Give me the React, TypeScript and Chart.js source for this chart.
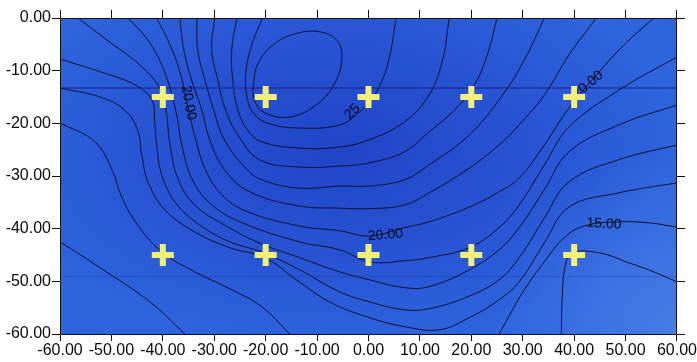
import React, { useEffect, useRef } from "react";
import { Chart, registerables } from "chart.js";

Chart.register(...registerables);

// ---- axis ticks ----
const xTickValues = [-60, -50, -40, -30, -20, -10, 0, 10, 20, 30, 40, 50, 60];
const yTickValues = [0, -10, -20, -30, -40, -50, -60];

// ---- sample (sensor) positions ----
const sensorX = [-40, -20, 0, 20, 40];
const sensorY = [-15, -45];

// ---- contour lines (x, y) ----
const contour26 = [
  [-22.5, -13.7], [-21.6, -8.9], [-18.3, -4.9], [-13.4, -2.8], [-9.1, -2.7], [-6.0, -4.4],
  [-5.2, -7.6], [-6.4, -12.1], [-9.9, -16.3], [-15.3, -18.8], [-20.2, -18.0], [-22.1, -15.9], [-22.5, -13.7],
];
const contour25 = [
  [-20.6, 0], [-22.7, -5.1], [-23.9, -10.8], [-23.5, -15.6], [-22.1, -18.4], [-19.2, -20.1],
  [-13.4, -20.9], [-5.6, -20.3], [-1.7, -17.8], [1.2, -14.6], [3.7, -8.9], [5.4, 0],
];
const contour24 = [
  [-25.6, 0], [-26.6, -6.1], [-26.4, -11.8], [-25.4, -17.5], [-23.5, -21.3], [-20.8, -23.5],
  [-13.4, -24.7], [-5.6, -24.5], [0.2, -23.1], [7.0, -19.7], [11.8, -14.6], [14.4, -8.0], [15.7, 0],
];
const contour23 = [
  [-29.9, 0], [-30.5, -6.1], [-29.3, -11.8], [-27.8, -17.5], [-25.4, -22.2], [-21.2, -26.9],
  [-13.4, -28.3], [-5.6, -28.1], [0.2, -27.5], [7.0, -25.4], [11.8, -21.6], [16.7, -17.5],
  [20.6, -12.7], [23.1, -7.0], [25.0, 0],
];
const contour22 = [
  [-33.4, 0], [-33.2, -6.1], [-31.8, -11.8], [-30.1, -17.5], [-28.2, -22.8], [-24.1, -28.3],
  [-20.8, -30.7], [-13.4, -32.3], [-5.6, -31.9], [0.2, -31.9], [7.0, -30.7], [11.8, -27.9],
  [19.6, -22.2], [25.8, -15.0], [30.3, -8.0], [34.2, 0],
];
const contour21 = [
  [-36.7, 0], [-35.9, -6.1], [-34.4, -11.8], [-32.4, -17.5], [-30.9, -23.1], [-28.0, -28.8],
  [-23.1, -33.0], [-13.4, -35.7], [-5.6, -36.1], [0.2, -36.2], [7.0, -35.5], [11.8, -33.2],
  [19.6, -28.5], [25.4, -24.1], [29.3, -20.3], [34.2, -14.6], [39.0, -7.0], [44.3, 0],
];
const contour20 = [
  [-41.2, 0], [-38.6, -5.1], [-36.5, -10.8], [-35.0, -17.5], [-33.6, -23.1], [-31.7, -28.8],
  [-28.5, -33.6], [-23.5, -36.8], [-13.4, -39.5], [-5.6, -40.4], [0.2, -41.4], [7.0, -39.8],
  [11.8, -38.7], [19.6, -35.9], [25.4, -33.0], [29.3, -30.4], [34.2, -24.1], [39.0, -17.1],
  [44.9, -10.2], [49.7, -5.1], [55.5, 0],
];
const contour19 = [
  [-46.8, 0], [-42.9, -4.2], [-39.8, -9.9], [-37.5, -17.5], [-36.3, -24.1], [-34.4, -30.4],
  [-30.9, -35.1], [-25.0, -38.7], [-13.4, -42.5], [-5.6, -44.0], [0.2, -46.3], [7.0, -46.1],
  [11.8, -45.5], [19.6, -43.6], [25.4, -39.8], [29.3, -35.5], [34.2, -27.9], [39.0, -20.7],
  [48.7, -13.7], [60, -7.4],
];
const contour18 = [
  [-56.5, 0], [-50.3, -4.6], [-44.5, -8.9], [-40.6, -13.3], [-39.4, -17.5], [-38.6, -24.1],
  [-37.1, -30.4], [-33.8, -35.5], [-28.0, -39.3], [-20.8, -42.9], [-13.4, -45.5], [-5.6, -48.2],
  [0.2, -49.7], [7.0, -51.2], [11.8, -51.0], [19.6, -47.8], [25.4, -44.0], [29.3, -39.8],
  [34.2, -32.6], [39.0, -25.4], [48.7, -20.3], [60, -16.5],
];
const contour17 = [
  [-60, -7.8], [-52.2, -10.2], [-45.4, -12.7], [-42.1, -15.6], [-41.6, -19.4], [-41.2, -24.1],
  [-40.2, -29.8], [-37.5, -35.1], [-32.8, -39.3], [-27.0, -42.5], [-20.8, -44.4], [-13.4, -47.8],
  [-5.6, -52.0], [0.2, -53.9], [7.0, -55.4], [11.8, -55.2], [19.6, -52.8], [25.4, -49.7],
  [29.3, -45.5], [34.2, -38.0], [39.0, -31.1], [48.7, -26.9], [60, -24.1],
];
const contour16 = [
  [-60, -13.3], [-52.2, -15.0], [-47.4, -17.5], [-44.9, -21.3], [-44.1, -26.0], [-42.9, -31.1],
  [-39.6, -36.4], [-33.8, -40.6], [-27.0, -43.6], [-20.2, -45.5], [-14.0, -49.7], [-7.6, -53.9],
  [0.2, -56.9], [7.0, -58.6], [13.8, -59.2], [19.6, -56.9], [25.4, -53.5], [29.3, -50.1],
  [34.2, -42.7], [39.0, -35.9], [48.7, -33.2], [60, -31.3],
];
const contour15West = [
  [-60, -19.9], [-53.2, -23.5], [-49.9, -28.8], [-48.0, -34.0], [-44.9, -39.3], [-40.2, -44.4],
  [-33.8, -48.2], [-27.4, -51.2], [-20.8, -54.8], [-15.3, -60],
];
const contour14West = [[-60, -42.5], [-52.2, -47.4], [-42.5, -53.9], [-35.7, -60]];
const contour15East = [
  [25.4, -60], [27.8, -55.8], [30.3, -51.6], [34.2, -46.3], [38.1, -41.7], [41.9, -39.5],
  [48.7, -38.7], [54.6, -38.9], [60, -39.7],
];
const contour14East = [
  [37.5, -60], [37.7, -52.6], [38.3, -46.9], [39.6, -44.6], [44.9, -44.6], [50.7, -46.5],
  [55.5, -48.2], [60, -50.1],
];

// ---- contour labels ----
const labelTexts = ["20.00", "25", "20.00", "15.00", "20.00"];
const labelX = [-35.0, -3.1, 3.3, 45.8, 42.7];
const labelY = [-16.1, -17.8, -41.2, -39.1, -12.7];
const labelAngle = [80, -45, -5, 3, -40];

// faint horizontal scan streaks in the original picture
const scanStreakY = [-13.3, -49.1];

const contours = [
  contour26, contour25, contour24, contour23, contour22, contour21, contour20, contour19,
  contour18, contour17, contour16, contour15West, contour14West, contour15East, contour14East,
];

const FONT = '"Liberation Sans", Arial, sans-serif';

export default function App() {
  const canvasRef = useRef<HTMLCanvasElement | null>(null);

  useEffect(() => {
    const canvas = canvasRef.current;
    if (!canvas) return;

    const markers: { x: number; y: number }[] = [];
    for (const y of sensorY) for (const x of sensorX) markers.push({ x, y });

    const backgroundPlugin = {
      id: "bg",
      beforeDraw(chart: any) {
        const { ctx, chartArea: a } = chart;
        ctx.save();
        ctx.beginPath();
        ctx.rect(a.left, a.top, a.width, a.height);
        ctx.clip();
        ctx.fillStyle = "rgb(46,100,222)";
        ctx.fillRect(a.left, a.top, a.width, a.height);
        // darker valley around the centre
        ctx.save();
        ctx.translate(a.left + a.width * 0.45, a.top + a.height * 0.42);
        ctx.scale(1.75, 1);
        const g = ctx.createRadialGradient(0, 0, 0, 0, 0, a.height * 0.62);
        g.addColorStop(0, "rgba(22,42,182,0.55)");
        g.addColorStop(0.6, "rgba(22,42,182,0.25)");
        g.addColorStop(1, "rgba(22,42,182,0)");
        ctx.fillStyle = g;
        ctx.fillRect(-a.width, -a.height, a.width * 2, a.height * 2);
        ctx.restore();
        // lighter bottom-right corner
        const g2 = ctx.createRadialGradient(a.right, a.bottom, 0, a.right, a.bottom, a.width * 0.3);
        g2.addColorStop(0, "rgba(110,160,240,0.4)");
        g2.addColorStop(1, "rgba(110,160,240,0)");
        ctx.fillStyle = g2;
        ctx.fillRect(a.left, a.top, a.width, a.height);
        // scan streaks
        const ys = chart.scales.y;
        scanStreakY.forEach((v, i) => {
          const p = ys.getPixelForValue(v);
          ctx.strokeStyle = i === 0 ? "rgba(15,25,120,0.55)" : "rgba(15,25,120,0.15)";
          ctx.lineWidth = 1.5;
          ctx.beginPath();
          ctx.moveTo(a.left, p);
          ctx.lineTo(a.right, p);
          ctx.stroke();
        });
        ctx.restore();
      },
    };

    const labelPlugin = {
      id: "contourLabels",
      afterDatasetDraw(chart: any, args: any) {
        if (args.index !== 1) return;
        const { ctx } = chart;
        const xs = chart.scales.x;
        const ys = chart.scales.y;
        ctx.save();
        ctx.font = `14px ${FONT}`;
        ctx.fillStyle = "#06081a";
        ctx.textAlign = "center";
        ctx.textBaseline = "middle";
        labelTexts.forEach((t, i) => {
          const px = xs.getPixelForValue(labelX[i]);
          const py = ys.getPixelForValue(labelY[i]);
          ctx.save();
          ctx.translate(px, py);
          ctx.rotate((labelAngle[i] * Math.PI) / 180);
          ctx.fillText(t, 0, 0);
          ctx.restore();
        });
        ctx.restore();
      },
    };

    const datasets: any[] = [
      {
        data: markers,
        showLine: false,
        pointStyle: "cross",
        pointRadius: 11,
        pointBorderWidth: 6,
        pointBorderColor: "#f2ef78",
        pointBackgroundColor: "#f2ef78",
      },
      ...contours.map((c) => ({
        data: c.map(([x, y]) => ({ x, y })),
        showLine: true,
        borderColor: "#0c1030",
        borderWidth: 1,
        pointRadius: 0,
        tension: 0.4,
        fill: false,
      })),
    ];

    const tickFont = { family: FONT, size: 16 };
    const commonGrid = { drawOnChartArea: false, drawTicks: true, tickLength: 8, color: "#111" };
    const border = { display: true, color: "#111", width: 1 };

    const chart = new Chart(canvas, {
      type: "scatter",
      data: { datasets },
      options: {
        animation: false,
        responsive: false,
        devicePixelRatio: 1,
        events: [],
        layout: { padding: 0, autoPadding: false },
        plugins: { legend: { display: false }, tooltip: { enabled: false } },
        scales: {
          x: {
            type: "linear",
            position: "bottom",
            min: -60,
            max: 60,
            afterBuildTicks: (s: any) => {
              s.ticks = xTickValues.map((v) => ({ value: v }));
            },
            afterFit: (s: any) => {
              s.height = 28;
            },
            ticks: {
              callback: (v: any) => Number(v).toFixed(2),
              font: tickFont,
              color: "#0a0a0a",
              padding: 0,
              maxRotation: 0,
              autoSkip: false,
            },
            grid: { ...commonGrid, tickLength: 7 },
            border,
          },
          x2: {
            type: "linear",
            position: "top",
            min: -60,
            max: 60,
            afterBuildTicks: (s: any) => {
              s.ticks = xTickValues.map((v) => ({ value: v }));
            },
            afterFit: (s: any) => {
              s.height = 18;
            },
            ticks: { display: false },
            grid: commonGrid,
            border,
          },
          y: {
            type: "linear",
            position: "left",
            min: -60,
            max: 0,
            afterBuildTicks: (s: any) => {
              s.ticks = yTickValues.map((v) => ({ value: v }));
            },
            afterFit: (s: any) => {
              s.width = 60;
            },
            ticks: {
              callback: (v: any) => Number(v).toFixed(2),
              font: tickFont,
              color: "#0a0a0a",
              padding: 1,
              autoSkip: false,
            },
            grid: commonGrid,
            border,
          },
          y2: {
            type: "linear",
            position: "right",
            min: -60,
            max: 0,
            afterBuildTicks: (s: any) => {
              s.ticks = yTickValues.map((v) => ({ value: v }));
            },
            afterFit: (s: any) => {
              s.width = 19;
            },
            ticks: { display: false },
            grid: commonGrid,
            border,
          },
        },
      } as any,
      plugins: [backgroundPlugin, labelPlugin],
    });

    return () => chart.destroy();
  }, []);

  return (
    <div style={{ position: "fixed", left: 0, top: 0, width: 697, height: 362, background: "#fff" }}>
      <canvas ref={canvasRef} width={697} height={362} style={{ width: 697, height: 362, display: "block" }} />
    </div>
  );
}
